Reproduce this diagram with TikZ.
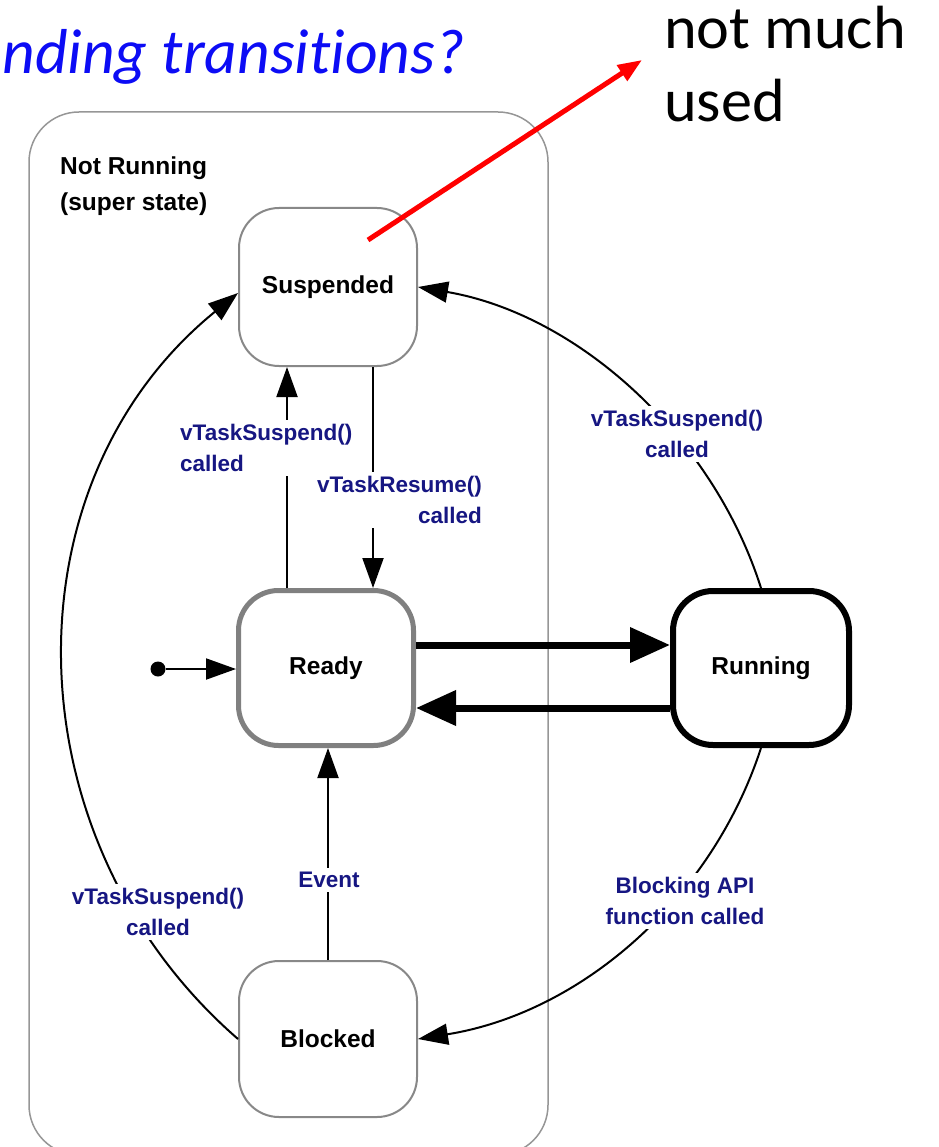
\documentclass[tikz,border=0pt]{standalone}
\usepackage{fontspec}
\setmainfont{Liberation Sans}
\newfontfamily\calfont[Ligatures=NoCommon]{Carlito}
\usetikzlibrary{arrows.meta}
\definecolor{lblnavy}{RGB}{22,22,130}
\definecolor{qblue}{RGB}{12,12,245}
\definecolor{boxgray}{RGB}{136,136,136}
\definecolor{outergray}{RGB}{150,150,150}
\definecolor{readygray}{RGB}{128,128,128}

\begin{document}
\begin{tikzpicture}[x=1pt,y=-1pt,
  state/.style={draw=boxgray, line width=2pt, rounded corners=40pt,
    minimum width=178pt, minimum height=158pt, fill=white, inner sep=0pt,
    font=\fontsize{24.5}{30}\selectfont\bfseries},
  lbl/.style={fill=white, text=lblnavy, inner sep=4pt,
    font=\fontsize{22.5}{31}\selectfont\bfseries},
  conn/.style={line width=2pt, -{Triangle[length=30pt,width=21pt]}},
  heavy/.style={line width=7pt, -{Triangle[length=40pt,width=34pt]}},
]
\useasboundingbox (0,0) rectangle (938,1147);
\clip (0,0) rectangle (938,1147);

% super state frame
\node[draw=outergray, line width=1.5pt, rounded corners=50pt,
      minimum width=519pt, minimum height=1043pt, inner sep=0pt] (super) at (288.5,633.5) {};
\node[anchor=north west, align=left, inner sep=0pt,
      font=\fontsize{24.5}{36}\selectfont\bfseries] (superlbl) at (60,157) {Not Running\\(super state)};

% states
\node[state] (susp) at (328,287) {Suspended};
\node[state, draw=readygray, line width=5pt, minimum width=175pt, minimum height=155pt] (ready) at (326,668) {Ready};
\node[state, draw=black, line width=6pt, minimum width=176pt, minimum height=154pt] (run) at (761,668) {Running};
\node[state, minimum height=156pt] (blk) at (328,1039) {Blocked};

% initial pseudo-state
\node[circle, fill=black, inner sep=0pt, minimum size=15pt] (init) at (158,669) {};
\draw[conn] (init) -- (init -| ready.west);

% Ready <-> Running
\draw[heavy] ([yshift=23pt]ready.east) -- ([yshift=23pt]run.west);
\draw[heavy] ([yshift=-40pt]run.west) -- ([yshift=-40pt]ready.east);

% Ready <-> Suspended
\draw[conn] ([xshift=-39pt]ready.north) -- ([xshift=-39pt]ready.north |- susp.south);
\draw[conn] ([xshift=45pt]susp.south) -- ([xshift=45pt]susp.south |- ready.north);
\node[lbl, align=left, anchor=west] (lsus1) at (176,448) {vTaskSuspend()\\called};
\node[lbl, align=right, anchor=east] (lres) at (486,500) {vTaskResume()\\called};

% Blocked -> Ready
\draw[conn] (blk.north) -- (blk.north |- ready.south);
\node[lbl] (levt) at (329,880) {Event};

% Running -> Suspended
\draw[conn] (run.north) .. controls (712,434) and (576,314) .. (susp.east);
\node[lbl, align=center] (lsus2) at (677,434) {vTaskSuspend()\\called};

% Running -> Blocked
\draw[conn] (run.south) .. controls (711,901) and (580,1013) .. (blk.east);
\node[lbl, align=center] (lblk) at (685,901) {Blocking API\\function called};

% Blocked -> Suspended
\draw[conn] (blk.west) .. controls (9,840) and (3,484) .. ([yshift=-6pt]susp.west);
\node[lbl, align=center] (lsus3) at (158,912) {vTaskSuspend()\\called};

% heading and note
\node[anchor=base east, inner sep=0pt, text=qblue,
      font=\fontsize{63.5}{72}\selectfont\calfont\itshape] (title) at (465,74) {nding transitions?};
\node[anchor=north west, align=left, inner sep=0pt, xscale=1.02,
      font=\fontsize{61}{73}\selectfont\calfont] (note) at (664,6) {not much\\used};
\coordinate (redstart) at (368,240);
\coordinate (redtip) at (642,60);
\draw[red, line width=5pt, -{Triangle[length=24pt,width=18pt]}] (redstart) -- (redtip);
\end{tikzpicture}
\end{document}
